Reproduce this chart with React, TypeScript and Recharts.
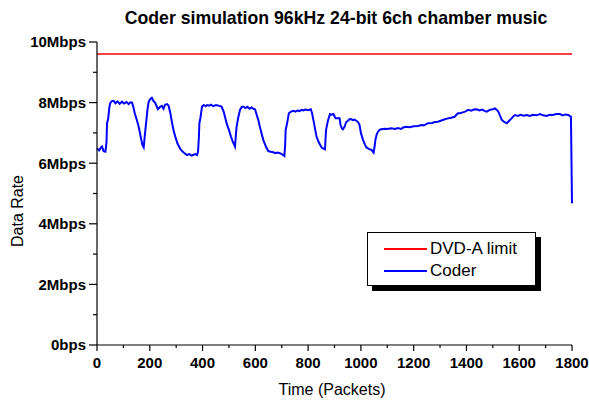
import React from "react";
import { LineChart, Line, XAxis, YAxis, ReferenceLine } from "recharts";

// packet index (x) and coder data rate in Mbps (y)
const PACKETS = [
  0, 8, 15, 19, 25, 32, 36, 38, 42, 47, 50, 56, 63, 70, 78, 86, 95, 103, 112, 120,
  127, 133, 138, 143, 150, 158, 165, 172, 177, 181, 186, 191, 196, 202, 208, 214, 220, 226, 231, 238,
  246, 252, 258, 265, 271, 278, 285, 291, 297, 305, 316, 325, 333, 341, 350, 358, 366, 373, 379, 383,
  386, 388, 392, 398, 405, 412, 417, 425, 432, 440, 451, 460, 472, 480, 486, 491, 500, 508, 515, 523,
  526, 529, 535, 542, 548, 554, 562, 570, 578, 586, 594, 599, 605, 611, 620, 630, 640, 649, 658, 668,
  676, 684, 693, 700, 706, 710, 713, 715, 720, 727, 735, 744, 752, 760, 768, 775, 782, 790, 800, 810,
  815, 820, 826, 832, 840, 846, 851, 858, 864, 866, 868, 875, 883, 890, 896, 900, 904, 913, 919, 923,
  928, 932, 938, 944, 951, 958, 964, 970, 976, 983, 990, 995, 1000, 1008, 1015, 1021, 1030, 1040, 1048, 1052,
  1055, 1060, 1065, 1071, 1077, 1090, 1100, 1115, 1130, 1140, 1153, 1160, 1172, 1185, 1200, 1216, 1230, 1240, 1254, 1270,
  1280, 1292, 1305, 1318, 1330, 1342, 1355, 1362, 1368, 1376, 1383, 1395, 1407, 1418, 1428, 1439, 1450, 1460, 1470, 1477,
  1488, 1500, 1508, 1515, 1521, 1528, 1534, 1543, 1553, 1562, 1571, 1578, 1584, 1595, 1605, 1617, 1628, 1640, 1653, 1665,
  1679, 1690, 1704, 1715, 1728, 1740, 1754, 1765, 1775, 1786, 1796, 1800,
];

const CODER_MBPS = [
  6.49, 6.42, 6.52, 6.55, 6.4, 6.38, 6.7, 7.32, 7.45, 7.85, 7.98, 8.05, 8.06, 7.98, 8.04, 7.96, 8.03, 7.97, 8.02, 7.95,
  8.01, 8.0, 7.85, 7.65, 7.45, 7.2, 6.9, 6.6, 6.52, 6.9, 7.32, 7.75, 8.03, 8.12, 8.16, 8.05, 8.0, 7.88, 7.78, 7.85,
  7.89, 7.8, 7.93, 7.95, 7.9, 7.65, 7.3, 7.05, 6.87, 6.65, 6.46, 6.38, 6.32, 6.27, 6.3, 6.25, 6.28, 6.3, 6.27, 6.38,
  6.85, 7.32, 7.5, 7.87, 7.92, 7.88, 7.92, 7.9, 7.93, 7.88, 7.92, 7.9, 7.87, 7.7, 7.5, 7.32, 7.1, 6.87, 6.7, 6.55,
  6.9, 7.2, 7.5, 7.76, 7.85, 7.87, 7.82, 7.86, 7.8, 7.84, 7.79, 7.78, 7.6, 7.43, 7.1, 6.77, 6.55, 6.4, 6.38, 6.36,
  6.33, 6.35, 6.33, 6.3, 6.27, 6.24, 6.6, 7.1, 7.3, 7.65, 7.7, 7.73, 7.7, 7.74, 7.72, 7.76, 7.74, 7.77, 7.75, 7.78,
  7.65, 7.43, 7.15, 6.87, 6.7, 6.6, 6.52, 6.48, 6.46, 6.8, 7.1, 7.4, 7.62, 7.6, 7.62, 7.55, 7.48, 7.48, 7.49, 7.26,
  7.15, 7.12, 7.2, 7.35, 7.4, 7.46, 7.45, 7.42, 7.44, 7.4, 7.35, 7.26, 7.0, 6.77, 6.62, 6.52, 6.47, 6.44, 6.35, 6.55,
  6.77, 6.95, 7.04, 7.1, 7.12, 7.14, 7.13, 7.15, 7.13, 7.16, 7.13, 7.18, 7.2, 7.19, 7.22, 7.23, 7.26, 7.25, 7.32, 7.33,
  7.36, 7.37, 7.41, 7.45, 7.48, 7.5, 7.53, 7.6, 7.65, 7.65, 7.67, 7.7, 7.76, 7.73, 7.77, 7.78, 7.74, 7.77, 7.72, 7.7,
  7.76, 7.78, 7.81, 7.76, 7.7, 7.55, 7.43, 7.36, 7.32, 7.4, 7.48, 7.55, 7.59, 7.56, 7.6, 7.57, 7.59, 7.56, 7.6, 7.58,
  7.62, 7.58, 7.56, 7.6, 7.59, 7.62, 7.62, 7.58, 7.61, 7.59, 7.53, 4.68,
];

const DVDA_LIMIT_MBPS = 9.6;

const X_TICKS = [0, 100, 200, 300, 400, 500, 600, 700, 800, 900, 1000, 1100, 1200, 1300, 1400, 1500, 1600, 1700, 1800];
const Y_TICKS = [0, 1, 2, 3, 4, 5, 6, 7, 8, 9, 10];

const data = PACKETS.map((p, i) => ({ packet: p, coder: CODER_MBPS[i] }));

const FONT = '"Liberation Sans", Arial, Helvetica, sans-serif';

const yLabel = (v: number) => (v === 0 ? "0bps" : `${v}Mbps`);

function YTick(props: any) {
  const { x, y, payload } = props;
  const major = payload.value % 2 === 0;
  return (
    <g>
      <line x1={x} x2={x - (major ? 8 : 4)} y1={y} y2={y} stroke="#000" strokeWidth={1.2} />
      {major && (
        <text x={x - 11} y={y} dy="0.36em" textAnchor="end" fontFamily={FONT} fontWeight="bold" fontSize={15} fill="#000">
          {yLabel(payload.value)}
        </text>
      )}
    </g>
  );
}

function XTick(props: any) {
  const { x, y, payload } = props;
  const major = payload.value % 200 === 0;
  return (
    <g>
      <line x1={x} x2={x} y1={y} y2={y + (major ? 6 : 3)} stroke="#000" strokeWidth={1.2} />
      {major && (
        <text x={x} y={y + 23} textAnchor="middle" fontFamily={FONT} fontWeight="bold" fontSize={15} fill="#000">
          {payload.value}
        </text>
      )}
    </g>
  );
}

function ChartLegend() {
  const row = (color: string, label: string, top: number) => (
    <div style={{ position: "absolute", left: 0, top, height: 20, width: "100%" }}>
      <div style={{ position: "absolute", left: 16, top: 9, width: 43, height: 2, background: color }} />
      <span style={{ position: "absolute", left: 62, top: 0, lineHeight: "20px", fontSize: 17, fontFamily: FONT }}>
        {label}
      </span>
    </div>
  );
  return (
    <div
      style={{
        position: "absolute",
        left: 367,
        top: 232,
        width: 167,
        height: 52,
        border: "1px solid #000",
        background: "#fff",
        boxShadow: "5px 5px 0 #000",
      }}
    >
      {row("#ff0000", "DVD-A limit", 6)}
      {row("#0000ff", "Coder", 28)}
    </div>
  );
}

export default function App() {
  return (
    <div style={{ position: "absolute", left: 0, top: 0, width: 589, height: 400, background: "#fff" }}>
      <LineChart width={589} height={400} data={data} margin={{ top: 42, right: 17, left: 0, bottom: 0 }}>
        <XAxis
          dataKey="packet"
          type="number"
          domain={[0, 1800]}
          ticks={X_TICKS}
          interval={0}
          tickSize={0}
          tickMargin={0}
          tickLine={false}
          tick={<XTick />}
          height={55}
          axisLine={{ stroke: "#000", strokeWidth: 1.2 }}
        />
        <YAxis
          type="number"
          domain={[0, 10]}
          ticks={Y_TICKS}
          interval={0}
          tickSize={0}
          tickMargin={0}
          tickLine={false}
          tick={<YTick />}
          width={97}
          axisLine={{ stroke: "#000", strokeWidth: 1.2 }}
        />
        <ReferenceLine y={DVDA_LIMIT_MBPS} stroke="#ff0000" strokeWidth={1.5} />
        <Line
          type="linear"
          dataKey="coder"
          stroke="#0000ff"
          strokeWidth={2}
          dot={false}
          isAnimationActive={false}
        />
      </LineChart>
      <svg width={589} height={400} style={{ position: "absolute", left: 0, top: 0, pointerEvents: "none" }}>
        <text x={336} y={24} textAnchor="middle" fontFamily={FONT} fontWeight="bold" fontSize={17.7}>
          Coder simulation 96kHz 24-bit 6ch chamber music
        </text>
        <text x={332} y={395} textAnchor="middle" fontFamily={FONT} fontSize={16}>
          Time (Packets)
        </text>
        <text x={23} y={211} textAnchor="middle" fontFamily={FONT} fontSize={16} transform="rotate(-90 23 211)">
          Data Rate
        </text>
      </svg>
      <ChartLegend />
    </div>
  );
}
